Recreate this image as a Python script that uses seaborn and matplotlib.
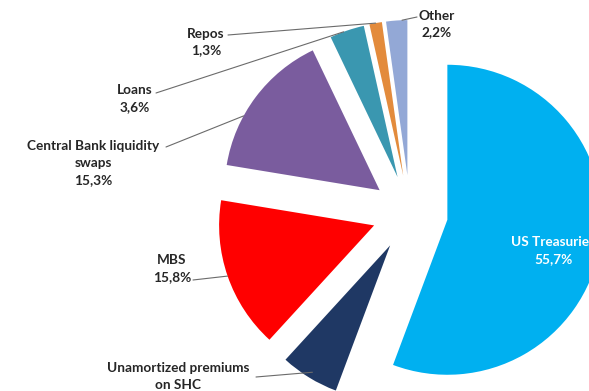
import numpy as np
import matplotlib
matplotlib.use("Agg")
import matplotlib.pyplot as plt
import seaborn as sns

# Composition of the balance sheet (share of total, %)
categories = ["US Treasuries", "Unamortized premiums\non SHC", "MBS",
              "Central Bank liquidity\nswaps", "Loans", "Repos", "Other"]
shares = [55.7, 6.1, 15.8, 15.3, 3.6, 1.3, 2.2]
value_labels = ["55,7%", "6,1%", "15,8%", "15,3%", "3,6%", "1,3%", "2,2%"]
colors = ["#00B0F0", "#1F3864", "#FF0000", "#7A5C9E", "#3A97B0", "#E38B3C", "#93A8D6"]

sns.set_theme(style="white")
plt.rcParams["font.family"] = ["Lato", "DejaVu Sans"]

W, H = 589, 391
fig = plt.figure(figsize=(W / 100, H / 100), dpi=100)
ax = fig.add_axes([0, 0, 1, 1])
ax.axis("off")

R = 155
center = (410, H - 213)
wedges, _ = ax.pie(shares, colors=colors, startangle=90, counterclock=False,
                   explode=[0.245 * R] * len(shares), radius=R, center=center,
                   wedgeprops=dict(linewidth=0))
ax.set_xlim(0, W)
ax.set_ylim(0, H)
ax.set_aspect("equal")


def arc_point(w, ang_deg, frac=1.0):
    """Point on a wedge at a given math angle (deg) and fraction of its radius."""
    cx, cy = w.center
    a = np.deg2rad(ang_deg)
    return cx + frac * w.r * np.cos(a), cy + frac * w.r * np.sin(a)


def wedge_angle(w, t):
    """Angle interpolated between a wedge's two edges (t=0..1)."""
    return w.theta1 + t * (w.theta2 - w.theta1)


FS = 9.8
LS = 1.5
txt = dict(fontsize=FS, fontweight="bold", color="#262626", ha="center", va="center",
           linespacing=LS)
line_kw = dict(color="#6b6b6b", lw=0.8)

# US Treasuries label inside its slice
ax.text(553, H - 251, categories[0] + "\n" + value_labels[0], color="white",
        fontsize=FS, fontweight="bold", ha="center", va="center", linespacing=LS)

# Outside labels with leader lines: (index, label pos, line start, t along wedge, radius frac)
outside = [
    (1, (178, H - 385), (256, H - 377), 0.5, 0.96),
    (2, (172, H - 269), (193, H - 280), 0.5, 1.0),
    (3, (93, H - 163), (166, H - 147), 0.65, 1.0),
    (4, (135, H - 99), (156, H - 93), 0.6, 1.0),
    (5, (206, H - 42), (228, H - 35), 0.5, 1.0),
    (6, (437, H - 24), (417, H - 17), 0.25, 1.0),
]
for i, lpos, start, t, frac in outside:
    w = wedges[i]
    end = arc_point(w, wedge_angle(w, t), frac)
    ax.plot([start[0], end[0]], [start[1], end[1]], **line_kw)
    ax.text(lpos[0], lpos[1], categories[i] + "\n" + value_labels[i], **txt)

fig.savefig("out.png", dpi=100)
